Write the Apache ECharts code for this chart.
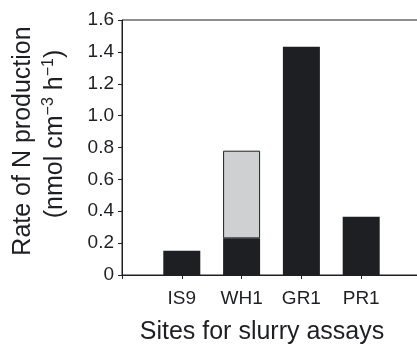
<!DOCTYPE html>
<html>
<head>
<meta charset="utf-8">
<script src="https://cdn.jsdelivr.net/npm/echarts@6/dist/echarts.min.js"></script>
<style>html,body{margin:0;padding:0;background:#fff}#c{width:417px;height:347px}</style>
</head>
<body>
<div id="c"></div>
<script>
const categories = ['IS9', 'WH1', 'GR1', 'PR1'];
const darkValues = [0.152, 0.230, 1.432, 0.366];
const grayValues = [null, 0.550, null, null];
const yMin = 0, yMax = 1.6, yInterval = 0.2;
const xTitle = 'Sites for slurry assays';
const yTitle1 = 'Rate of N production';

const F = 'Liberation Sans, Arial, Helvetica, sans-serif';
const ink = '#1e1f22';
const chart = echarts.init(document.getElementById('c'));
chart.setOption({
  animation: false,
  grid: { left: 122, right: -4, top: 20, bottom: 72, show: true, borderColor: ink, borderWidth: 1,
          containLabel: false, outerBoundsMode: 'none' },
  xAxis: {
    type: 'category',
    data: ['', ...categories, ''],
    boundaryGap: false,
    axisLine: { lineStyle: { color: ink, width: 1 } },
    axisTick: { length: 4, lineStyle: { color: ink } },
    axisLabel: { color: ink, fontFamily: F, fontSize: 19, margin: 14 },
    splitLine: { show: false }
  },
  yAxis: {
    type: 'value', min: yMin, max: yMax, interval: yInterval,
    axisLine: { show: true, lineStyle: { color: ink, width: 1 } },
    axisTick: { show: true, length: 4, lineStyle: { color: ink } },
    axisLabel: { color: ink, fontFamily: F, fontSize: 19, margin: 8,
      formatter: v => v === 0 ? '0' : v.toFixed(1) },
    splitLine: { show: false }
  },
  series: [
    { type: 'bar', stack: 's', barWidth: 37, data: [null, ...darkValues, null],
      itemStyle: { color: ink } },
    { type: 'bar', stack: 's', barWidth: 37, data: [null, ...grayValues, null],
      itemStyle: { color: '#cfd0d2', borderColor: ink, borderWidth: 1 } }
  ],
  graphic: [
    { type: 'text', x: 262, y: 332, style: { text: xTitle, font: '25px ' + F, fill: ink, align: 'center', verticalAlign: 'middle' } },
    { type: 'text', x: 23, y: 141, rotation: Math.PI / 2, style: { text: yTitle1, font: '25px ' + F, fill: ink, align: 'center', verticalAlign: 'middle' } },
    { type: 'text', x: 55, y: 134, rotation: Math.PI / 2, style: {
        text: '{b|(nmol cm}{s|−3}{b| h}{s|−1}{b|)}',
        align: 'center', verticalAlign: 'middle',
        rich: {
          b: { font: '25px ' + F, fill: ink, lineHeight: 28 },
          s: { font: '16px ' + F, fill: ink, lineHeight: 28, verticalAlign: 'top' }
        }
    } }
  ]
});
</script>
</body>
</html>
